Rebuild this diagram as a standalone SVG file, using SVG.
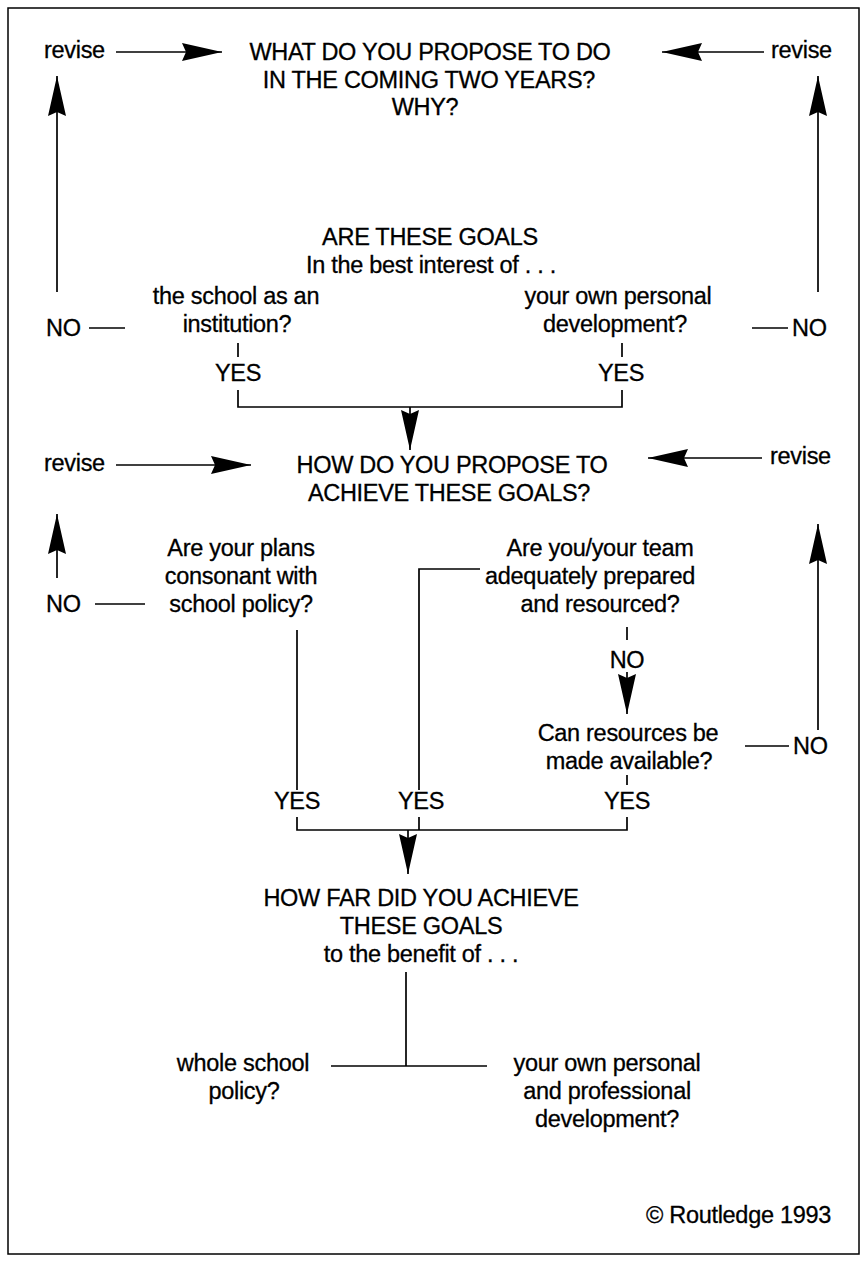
<svg xmlns="http://www.w3.org/2000/svg" width="862" height="1261" viewBox="0 0 862 1261">
<style>
text{font-family:"Liberation Sans",Arial,Helvetica,sans-serif;font-size:23.5px;letter-spacing:-0.3px;fill:#000;stroke:#000;stroke-width:0.3px}
.c{text-anchor:middle}
.e{text-anchor:end}
.ln{fill:none;stroke:#000;stroke-width:1.7}
.ar{fill:none;stroke:#000;stroke-width:1.7;marker-end:url(#ah)}
</style>
<defs>
<marker id="ah" markerUnits="userSpaceOnUse" viewBox="0 0 40 18" markerWidth="40" markerHeight="18" refX="40" refY="9" orient="auto">
<path d="M0,0 L40,9 L0,18 L4,9 z" fill="#000"/>
</marker>
</defs>
<rect x="0" y="0" width="862" height="1261" fill="#fff"/>
<rect x="8" y="8" width="851" height="1246" fill="none" stroke="#000" stroke-width="1.5"/>

<g id="connectors">
<path class="ar" d="M116,52 H222"/>
<path class="ar" d="M764,52 H662"/>
<path class="ar" d="M57,292 V76"/>
<path class="ar" d="M818,292 V76"/>
<path class="ln" d="M89,328 H125"/>
<path class="ln" d="M752,328 H788"/>
<path class="ln" d="M238,343 V357 M622,343 V357"/>
<path class="ln" d="M238,390 V407 H622 V390"/>
<path class="ar" d="M410,407 V450"/>
<path class="ar" d="M116,465 H251"/>
<path class="ar" d="M762,458 H648"/>
<path class="ar" d="M57,578 V514"/>
<path class="ar" d="M818,730 V524"/>
<path class="ln" d="M95,604 H145"/>
<path class="ln" d="M297,630 V790"/>
<path class="ln" d="M480,569 H419 V790"/>
<path class="ln" d="M627,627 V640"/>
<path class="ar" d="M627,672 V714"/>
<path class="ln" d="M745,746 H789"/>
<path class="ln" d="M627,775 V785"/>
<path class="ln" d="M297,817 V830 H627 V817 M419,817 V830"/>
<path class="ar" d="M408,830 V874"/>
<path class="ln" d="M406,972 V1066"/>
<path class="ln" d="M331,1066 H487"/>
</g>

<g id="revise-tl"><text x="44" y="58">revise</text></g>
<g id="revise-tr"><text x="771" y="58">revise</text></g>
<g id="q-what"><text class="c" x="430" y="60">WHAT DO YOU PROPOSE TO DO</text><text class="c" x="429" y="88">IN THE COMING TWO YEARS?</text><text class="c" x="425" y="115">WHY?</text></g>
<g id="q-goals"><text class="c" x="430" y="245">ARE THESE GOALS</text><text class="c" x="431" y="273">In the best interest of . . .</text></g>
<g id="no-l1"><text x="46" y="336">NO</text></g>
<g id="no-r1"><text x="792" y="336">NO</text></g>
<g id="school"><text class="c" x="236" y="304">the school as an</text><text class="c" x="237" y="332">institution?</text></g>
<g id="personal"><text class="c" x="618" y="304">your own personal</text><text class="c" x="615" y="332">development?</text></g>
<g id="yes-l1"><text class="c" x="238" y="381">YES</text></g>
<g id="yes-r1"><text class="c" x="621" y="381">YES</text></g>
<g id="revise-ml"><text x="44" y="471">revise</text></g>
<g id="revise-mr"><text x="770" y="464">revise</text></g>
<g id="q-how"><text class="c" x="452" y="473">HOW DO YOU PROPOSE TO</text><text class="c" x="449" y="501">ACHIEVE THESE GOALS?</text></g>
<g id="plans"><text class="c" x="241" y="556">Are your plans</text><text class="c" x="241" y="584">consonant with</text><text class="c" x="241" y="612">school policy?</text></g>
<g id="no-l2"><text x="46" y="612">NO</text></g>
<g id="team"><text class="c" x="600" y="556">Are you/your team</text><text class="c" x="590" y="584">adequately prepared</text><text class="c" x="600" y="612">and resourced?</text></g>
<g id="no-team"><text class="c" x="627" y="668">NO</text></g>
<g id="resources"><text class="c" x="628" y="741">Can resources be</text><text class="c" x="629" y="769">made available?</text></g>
<g id="no-r2"><text x="793" y="754">NO</text></g>
<g id="yes-1"><text class="c" x="297" y="809">YES</text></g>
<g id="yes-2"><text class="c" x="421" y="809">YES</text></g>
<g id="yes-3"><text class="c" x="627" y="809">YES</text></g>
<g id="q-howfar"><text class="c" x="421" y="906">HOW FAR DID YOU ACHIEVE</text><text class="c" x="421" y="934">THESE GOALS</text><text class="c" x="421" y="962">to the benefit of . . .</text></g>
<g id="whole"><text class="c" x="243" y="1071">whole school</text><text class="c" x="244" y="1099">policy?</text></g>
<g id="development"><text class="c" x="607" y="1071">your own personal</text><text class="c" x="607" y="1099">and professional</text><text class="c" x="607" y="1127">development?</text></g>
<g id="copyright"><text class="e" x="831" y="1223">© Routledge 1993</text></g>
</svg>
